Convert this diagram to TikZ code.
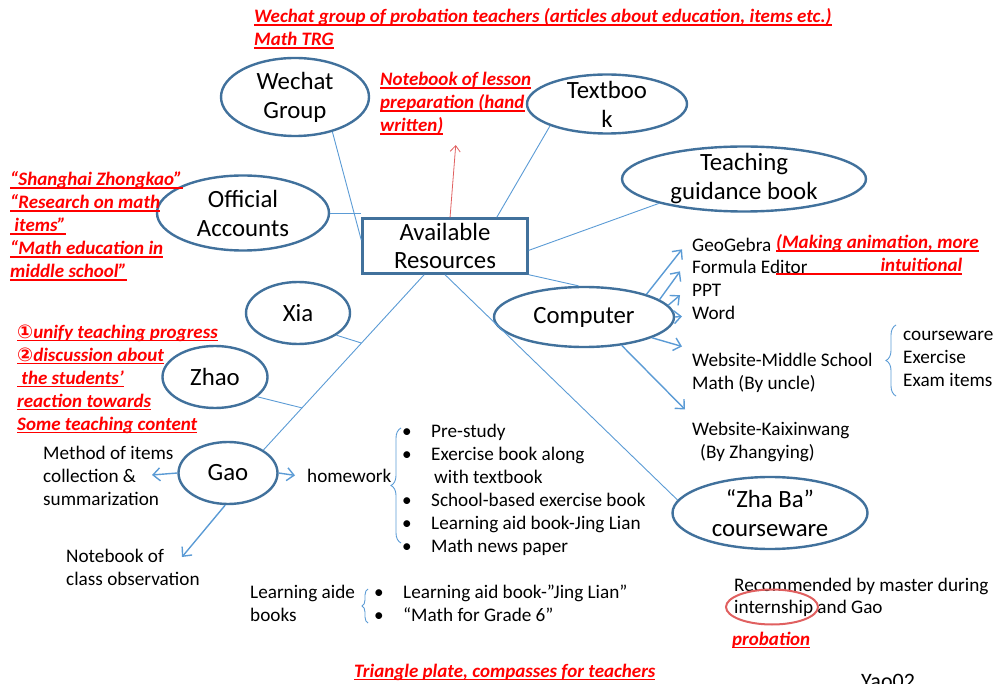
\documentclass[tikz,border=0pt]{standalone}
\usepackage{fontspec}
\setmainfont{Carlito}
\newfontfamily\circledfont{DejaVu Sans}
\usetikzlibrary{arrows.meta,positioning,shapes.geometric,calc,decorations.pathreplacing}
\definecolor{rim}{HTML}{41719C}
\definecolor{wire}{HTML}{5B9BD5}
\definecolor{alert}{HTML}{FF0000}
\definecolor{circlered}{HTML}{E06060}
\newcommand{\hwbullet}{\makebox[29pt][l]{•}}
\newcommand{\markline}[1]{\setbox0\hbox{#1}\rlap{\rule[-2.6pt]{\wd0}{1.1pt}}\box0}

\begin{document}
\begin{tikzpicture}[
  x=1pt, y=-1pt,
  font=\fontsize{19.2}{23}\selectfont,
  resource/.style={
    ellipse, draw=rim, line width=2.4pt, fill=white,
    inner xsep=0pt, inner ysep=-8pt,
    align=center, font=\fontsize{24.8}{29}\selectfont
  },
  hub/.style={
    draw=rim, line width=2.4pt, fill=white, inner sep=0pt,
    minimum width=165pt, minimum height=55pt,
    align=center, font=\fontsize{24.8}{28}\selectfont
  },
  plaintext/.style={inner sep=0pt, anchor=base west, align=left},
  remark/.style={plaintext, text=alert, font=\fontsize{19}{23}\selectfont\bfseries\itshape},
  link/.style={draw=wire, line width=0.9pt},
  arrow/.style={-{Straight Barb[length=7pt,width=13pt]}, draw=wire, line width=1.4pt},
  alertarrow/.style={-{Straight Barb[length=6pt,width=10pt]}, draw=circlered, line width=0.8pt},
  bracket/.style={decorate, decoration={brace, amplitude=10pt}, draw=wire, line width=0.9pt}
]
\useasboundingbox (0,0) rectangle (998,684);

\node[hub] (avail) at (445,246) {Available\\Resources};

\node[resource, minimum width=148pt, minimum height=78pt] (wechat) at (295,97) {Wechat\\Group};
\node[resource, minimum width=160pt, minimum height=59pt] (textbook) at (607,104) {Textboo\\k};
\node[resource, minimum width=244pt, minimum height=65pt] (guidance) at (744,179) {Teaching\\guidance book};
\node[resource, minimum width=172pt, minimum height=75pt] (official) at (243,213) {Official\\Accounts};
\node[resource, minimum width=180pt, minimum height=60pt] (computer) at (584,317) {Computer};
\node[resource, minimum width=104pt, minimum height=62pt] (xia) at (298,313) {Xia};
\node[resource, minimum width=105pt, minimum height=62pt] (zhao) at (215,377) {Zhao};
\node[resource, minimum width=99pt, minimum height=62pt] (gao) at (228,473) {Gao};
\node[resource, minimum width=195pt, minimum height=72pt] (zhaba) at (770,513) {“Zha Ba”\\courseware};

\node[remark] (groupNote) at (254,46)
  {\markline{Wechat group of probation teachers (articles about education, items etc.)}\\\markline{Math TRG}};
\node[remark] (lessonNote) at (380,132)
  {\markline{Notebook of lesson}\\\markline{preparation (hand}\\\markline{written)}};
\node[remark] (accountNote) at (10,278)
  {\markline{“Shanghai Zhongkao”}\\\markline{“Research on math}\\\markline{\ items”}\\\markline{“Math education in}\\\markline{middle school”}};
\node[remark] (zhaoNote) at (17,430)
  {\markline{{\circledfont ①}unify teaching progress}\\\markline{{\circledfont ②}discussion about}\\\markline{\ the students’}\\\markline{reaction towards}\\\markline{Some teaching content}};

\node[plaintext] (geogebra) at (692,252) {GeoGebra};
\node[plaintext] (formula) at (692,274) {Formula Editor};
\node[plaintext] (ppt) at (692,297) {PPT};
\node[plaintext] (word) at (692,320) {Word};
\node[remark] (animNote) at (776,272)
  {\markline{(Making animation, more}\\\markline{\makebox[186pt][r]{intuitional}}};
\node[plaintext] (midSite) at (692,389) {Website-Middle School\\Math (By uncle)};
\node[plaintext] (midItems) at (903,386) {courseware\\Exercise\\Exam items};
\node[plaintext] (kaixin) at (692,458) {Website-Kaixinwang\\\hspace*{8pt}(By Zhangying)};

\node[plaintext] (method) at (43,505) {Method of items\\collection \&\\summarization};
\node[plaintext] (observe) at (66,585) {Notebook of\\class observation};
\node[plaintext] (homework) at (307,482) {homework};
\node[plaintext] (hwList) at (402,552)
  {\hwbullet Pre-study\\\hwbullet Exercise book along\\\hspace*{32pt}with textbook\\\hwbullet School-based exercise book\\\hwbullet Learning aid book-Jing Lian\\\hwbullet Math news paper};
\node[plaintext] (aide) at (250,621) {Learning aide\\books};
\node[plaintext] (aideList) at (374,621) {\hwbullet Learning aid book-”Jing Lian”\\\hwbullet “Math for Grade 6”};

\node[plaintext, font=\fontsize{19.2}{21.5}\selectfont] (recommend) at (734,613) {Recommended by master during\\internship and Gao};
\node[ellipse, draw=circlered, line width=2pt, minimum width=92pt, minimum height=35pt, inner sep=0pt] (internRing) at (772,607) {};
\node[remark] (probation) at (732,645) {\markline{probation}};
\node[remark] (toolNote) at (354,677) {\markline{Triangle plate, compasses for teachers}};
\node[plaintext, font=\fontsize{22}{26}\selectfont] (yao) at (861,688) {Yao02};

\coordinate (xiaJoint) at ($(avail.-126)!0.39!(gao.33)$);
\coordinate (zhaoJoint) at ($(avail.-126)!0.76!(gao.33)$);
\coordinate (methodTip) at (152,475);
\coordinate (observeTip) at (182,557);

\draw[link] (wechat.-43) -- (avail.176);
\draw[link] (official.east) -- (official.east -| avail.west);
\draw[link] (textbook.-159) -- (avail.29);
\draw[link] (guidance.-164) -- (avail.-3);
\draw[link] (avail.south east) -- (computer.100);
\draw[link] (avail.south) -- (zhaba.172);
\draw[link] (avail.-126) -- (gao.33);
\draw[link] (xia.-30) -- (xiaJoint);
\draw[link] (zhao.-25) -- (zhaoJoint);

\draw[alertarrow] (avail.80) -- ([yshift=-10pt]lessonNote.south);

\draw[arrow] (computer.20) -- ([shift={(-10,-3)}]geogebra.south west);
\draw[arrow] (computer.13) -- ([shift={(-12,-3)}]formula.south west);
\draw[arrow] (computer.8) -- ([shift={(-12,-2)}]ppt.south west);
\draw[arrow] (computer.east) -- ([shift={(-10,3)}]word.west);
\draw[arrow] (computer.-17) -- ([shift={(-10,-6)}]midSite.north west);
\draw[arrow] (computer.-37) -- ([shift={(-7,-12)}]kaixin.north west);

\draw[arrow] (gao.west) -- (methodTip);
\draw[arrow] (gao.east) -- ([xshift=-12pt]homework.west);
\draw[arrow] (gao.-95) -- (observeTip);

\draw[bracket] (401,543) -- (401,428);
\draw[bracket] (896,396) -- (896,325);
\draw[bracket, decoration={amplitude=6pt}] (368,623) -- (368,589);

\end{tikzpicture}
\end{document}
